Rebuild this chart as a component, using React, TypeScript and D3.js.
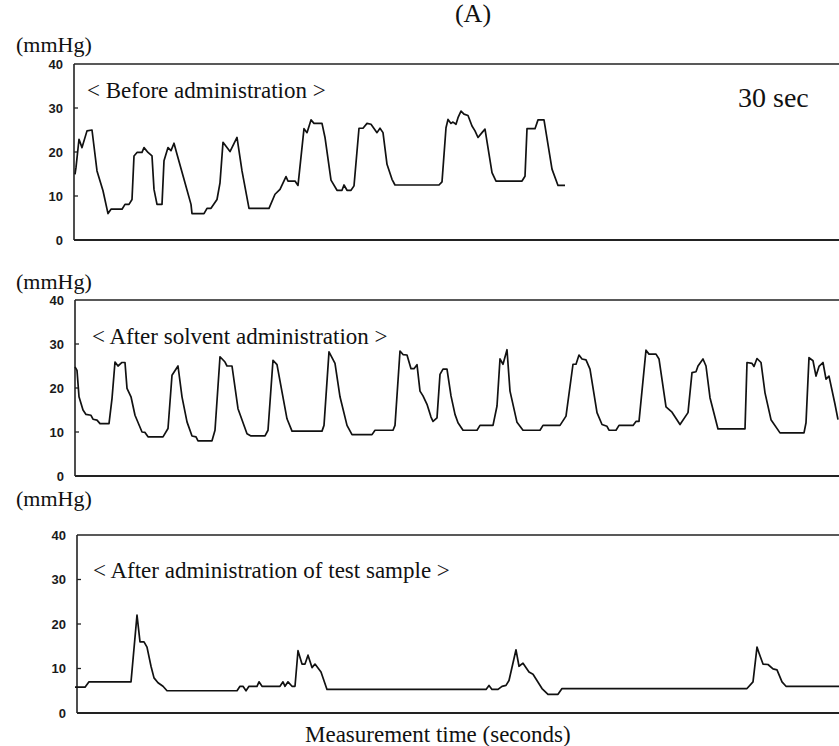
import React from "react";
import * as d3 from "d3";

// Time (s) and pressure (mmHg) readings for each trace
const beforeAdmin: [number, number][] = [
  [0, 14.9], [0.2, 16.5], [0.8, 22.9], [1.4, 21], [2.4, 24.8], [3.4, 25], [4.4, 15.7], [5.6, 11.2],
  [6.6, 6], [7.2, 7], [9.4, 7], [10, 8.1], [10.8, 8.1], [11.4, 9.2], [11.8, 19.1], [12.4, 19.9],
  [13.4, 19.9], [13.8, 21], [14.6, 19.9], [15.4, 19.1], [15.8, 11.5], [16.4, 8.1], [17.4, 8.1],
  [17.8, 18], [18.6, 21], [19.2, 20.3], [19.8, 22], [20.4, 19.5], [21.8, 13.8], [23.2, 8.1],
  [23.4, 6], [25.8, 6], [26.4, 7.2], [27.2, 7.2], [28.4, 9.2], [29, 13], [29.6, 22.2], [31, 20.1],
  [32.4, 23.3], [33.4, 15.7], [34.8, 7.2], [38.8, 7.2], [40, 10.4], [41, 11.5], [42.2, 14.4],
  [42.6, 13.4], [44, 13.4], [44.6, 12.4], [45.8, 25.3], [46.4, 24.4], [47.2, 27.3], [47.8, 26.5],
  [49.4, 26.5], [50, 23.3], [51.2, 13.6], [52.4, 11.3], [53.4, 11.3], [53.8, 12.5], [54.4, 11.3],
  [55.2, 11.3], [55.8, 12.3], [56.8, 25.4], [57.6, 25.4], [58.4, 26.5], [59.2, 26.3], [60.4, 24.4],
  [61, 25.4], [61.6, 24.4], [62.4, 17.2], [63.4, 13.8], [64, 12.5], [72.8, 12.5], [73.4, 13.2],
  [74.2, 25.5], [74.6, 27.4], [75.2, 26.5], [75.6, 26.8], [76.2, 26.3], [76.6, 27.8], [77.2, 29.3],
  [77.8, 28.6], [78.6, 28.3], [79.4, 25.9], [80, 24.8], [80.6, 23.3], [81.4, 24.4], [82, 25.2],
  [83.4, 15.3], [84.2, 13.4], [89.4, 13.4], [90, 14.5], [90.4, 25.3], [92, 25.3], [92.6, 27.3],
  [93.8, 27.3], [95.4, 16.1], [96.6, 12.4], [98, 12.4],
];

const afterSolvent: [number, number][] = [
  [0, 24.8], [0.4, 24], [0.8, 18], [1.6, 15], [2.2, 14], [3.2, 13.8], [3.6, 12.9], [4.4, 12.7],
  [5, 11.9], [6.8, 11.9], [7.4, 17.6], [8, 25.9], [8.6, 25], [9.4, 25.8], [10, 25.8], [10.4, 19.9],
  [11.2, 18], [12, 13.8], [13.4, 10], [14, 9.9], [14.6, 8.9], [17.6, 8.9], [18.6, 10.8], [19.4, 22.9],
  [20.6, 25], [21.4, 18], [22.4, 12.3], [23.4, 9.1], [24.2, 8.9], [24.6, 8], [27.4, 8], [28, 10.4],
  [29, 27.1], [30, 25.9], [30.4, 25], [31.4, 25], [32.6, 15.3], [34.4, 9.6], [35.2, 9.1], [38, 9.1],
  [38.6, 10.4], [39.6, 26.3], [40.4, 25.3], [41.4, 19.1], [42.4, 13], [43.4, 10.2], [49.4, 10.2],
  [49.8, 11.5], [50.8, 28.2], [52, 25.6], [53, 18], [54.4, 11.5], [55.4, 9.4], [59.4, 9.4],
  [60, 10.4], [63.6, 10.4], [64, 11.5], [65, 28.4], [65.6, 27.6], [66.4, 27.5], [67.2, 24.4],
  [67.8, 24.4], [68.4, 25.3], [69, 19.3], [69.6, 18.2], [70.4, 16.3], [71.2, 13.4], [71.6, 12.4],
  [72.4, 13.2], [73, 23.1], [73.6, 24.3], [74.4, 24.3], [75.2, 18.2], [76, 14], [76.6, 12.1],
  [77.6, 10.4], [80.4, 10.4], [81, 11.5], [83.6, 11.5], [84.4, 15.9], [85, 26.6], [85.6, 25.4],
  [86.4, 28.7], [87, 19.3], [88.4, 12.2], [89.6, 10.4], [93, 10.4], [93.6, 11.5], [97, 11.5],
  [98.2, 13.6], [99.6, 25.4], [100.2, 25.4], [100.8, 27.5], [101.4, 26.6], [102.2, 26.4], [103, 24.3],
  [104.4, 14.4], [105.4, 11.7], [106.4, 11.3], [106.8, 10.4], [108.2, 10.4], [108.8, 11.5],
  [111.6, 11.5], [112.2, 12.4], [112.8, 12.4], [114.2, 28.6], [114.8, 27.7], [116.2, 27.7],
  [116.8, 26.6], [118.2, 15.7], [119.4, 14.5], [121, 11.7], [122.6, 14.4], [123.4, 23.5],
  [124.2, 23.7], [124.6, 25], [125.6, 26.6], [126.2, 25], [127, 17.8], [128.6, 10.7], [134, 10.7],
  [134.4, 25.8], [135.4, 25.6], [135.8, 24.9], [136.4, 26.7], [137.2, 25.8], [138, 18.9],
  [139.2, 12.8], [141, 9.8], [145.8, 9.8], [146.2, 12.1], [146.8, 26.9], [147.6, 26.2],
  [148.2, 22.7], [148.8, 24.9], [149.6, 25.8], [150.2, 22], [150.8, 22.7], [152, 16.3], [152.6, 12.8],
];

const afterTestSample: [number, number][] = [
  [0, 5.8], [2, 5.8], [2.8, 7], [11.2, 7], [12.4, 22], [13, 16], [13.8, 16], [14.4, 14.8],
  [15.2, 10.5], [15.8, 7.9], [16.6, 6.8], [17.6, 6], [18.4, 5], [32.4, 5], [33, 6], [33.6, 6],
  [34.2, 5], [34.8, 6], [36.4, 6], [36.8, 7], [37.4, 6], [41, 6], [41.6, 7], [42, 6], [42.6, 7],
  [43.4, 6], [44, 6], [44.6, 14], [45.4, 11], [46, 11], [46.6, 13], [47.4, 10.2], [48, 11],
  [49.2, 9.2], [50.4, 5.3], [82.2, 5.3], [82.8, 6.2], [83.4, 5.3], [84.6, 5.3], [85.4, 6],
  [86.2, 6.2], [86.8, 7.3], [88.2, 14.2], [88.8, 10.5], [89.6, 11.2], [90.8, 9.2], [91.6, 8.7],
  [93.4, 5.5], [94.6, 4.2], [96.6, 4.2], [97.4, 5.5], [134.4, 5.5], [135.6, 7], [136.4, 14.8],
  [136.8, 13.5], [137.6, 11], [138.6, 10.9], [139.6, 9.9], [140.4, 9.7], [141.4, 7], [142.2, 6],
  [152.8, 6],
];

const yTicks = [0, 10, 20, 30, 40];
const panelTitles = [
  "< Before administration >",
  "< After solvent administration >",
  "< After administration of test sample >",
];
const unitLabel = "(mmHg)";
const figureLabel = "(A)";
const timeNote = "30 sec";
const xAxisTitle = "Measurement time (seconds)";

const W = 839;
const H = 746;
const serif = "'Liberation Serif', 'Times New Roman', serif";
const sans = "'Liberation Sans', Arial, sans-serif";

const panels = [
  { data: beforeAdmin, top: 64, bottom: 240, left: 74, unitY: 52, titleX: 87, titleY: 98 },
  { data: afterSolvent, top: 300, bottom: 476, left: 75, unitY: 289, titleX: 92, titleY: 344 },
  { data: afterTestSample, top: 535, bottom: 713, left: 77, unitY: 506, titleX: 93, titleY: 578 },
];

export default function App() {
  const x = d3.scaleLinear().domain([0, 152.8]).range([75, W]);
  return (
    <svg width={W} height={H} style={{ position: "absolute", left: 0, top: 0, background: "#fff" }}>
      <rect x={0} y={0} width={W} height={H} fill="#fff" />
      <text x={473} y={22} fontFamily={serif} fontSize={26} textAnchor="middle" fill="#111">
        {figureLabel}
      </text>
      {panels.map((p, i) => {
        const y = d3.scaleLinear().domain([0, 40]).range([p.bottom, p.top]);
        const line = d3
          .line<[number, number]>()
          .x((d) => x(d[0]))
          .y((d) => y(d[1]));
        return (
          <g key={i}>
            <text x={16} y={p.unitY} fontFamily={serif} fontSize={22} fill="#111">
              {unitLabel}
            </text>
            <line x1={p.left} x2={W} y1={p.top} y2={p.top} stroke="#222" strokeWidth={1.6} />
            <line x1={p.left} x2={W} y1={p.bottom} y2={p.bottom} stroke="#222" strokeWidth={1.8} />
            <line x1={p.left} x2={p.left} y1={p.top} y2={p.bottom} stroke="#222" strokeWidth={1.6} />
            {yTicks.map((t) => (
              <g key={t}>
                {t > 0 && t < 40 && (
                  <line x1={p.left} x2={p.left + 4} y1={y(t)} y2={y(t)} stroke="#222" strokeWidth={1.3} />
                )}
                <text
                  x={p.left - 11}
                  y={y(t)}
                  dy="0.36em"
                  textAnchor="end"
                  fontFamily={sans}
                  fontWeight="bold"
                  fontSize={13}
                  fill="#1a1a1a"
                >
                  {t}
                </text>
              </g>
            ))}
            <text x={p.titleX} y={p.titleY} fontFamily={serif} fontSize={23} fill="#111">
              {panelTitles[i]}
            </text>
            <path d={line(p.data) || ""} fill="none" stroke="#111" strokeWidth={1.7} strokeLinejoin="round" />
          </g>
        );
      })}
      <text x={738} y={107} fontFamily={serif} fontSize={28} fill="#111">
        {timeNote}
      </text>
      <text x={305} y={742} fontFamily={serif} fontSize={23} fill="#111">
        {xAxisTitle}
      </text>
    </svg>
  );
}
